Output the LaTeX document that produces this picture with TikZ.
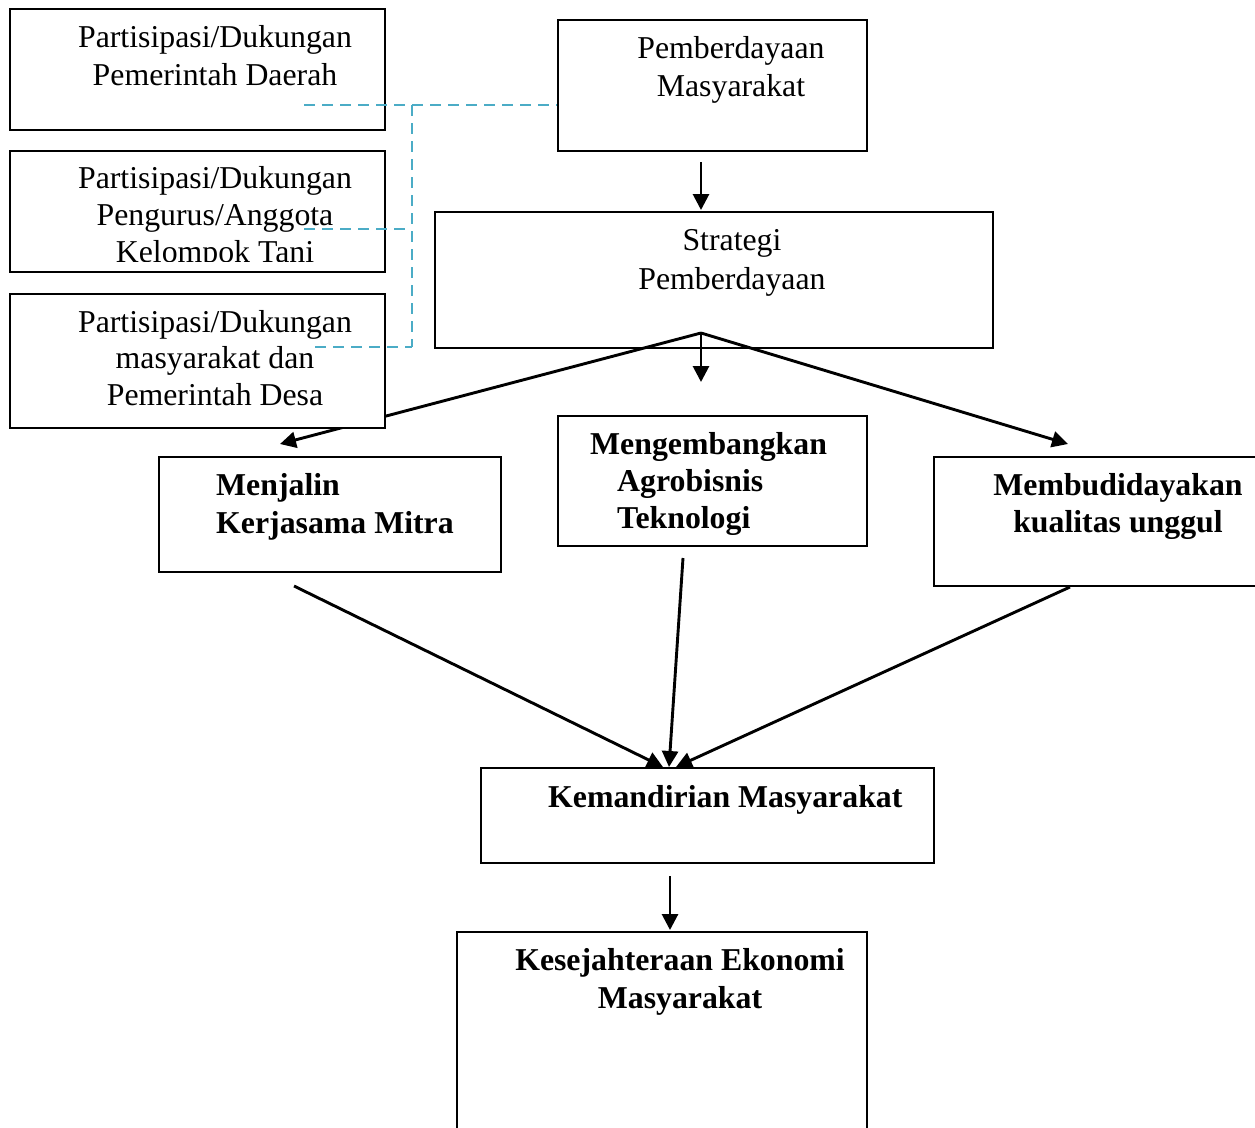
\documentclass[tikz,border=0pt]{standalone}
\usepackage{fontspec}
\setmainfont{Liberation Serif}
\usetikzlibrary{arrows.meta}
\definecolor{dashblue}{HTML}{4BACC6}
\begin{document}
\begin{tikzpicture}[x=1pt,y=-1pt,
  box/.style={draw, line width=2.2pt, fill=white, inner sep=0pt, anchor=north west},
  txt/.style={font=\fontsize{31.8}{38}\selectfont, inner sep=0pt, anchor=base},
  ltxt/.style={txt, anchor=base west},
  btxt/.style={txt, font=\fontsize{31.8}{38}\selectfont\bfseries},
  lbtxt/.style={btxt, anchor=base west},
  arr/.style={line width=2.9pt, -{Triangle[length=16pt,width=16pt]}},
  dashline/.style={dashblue, line width=2.8pt, dash pattern=on 11pt off 7pt}]
\useasboundingbox (0,0) rectangle (1255,1127);
\clip (0,0) rectangle (1255,1127);
\fill[white] (0,0) rectangle (1255,1127);

% coordinates for connectors
\coordinate (apex) at (701,333);
\coordinate (dtop) at (701,162);
\coordinate (etop) at (701,210);
\coordinate (mid) at (701,382);
\coordinate (ltip) at (280,444);
\coordinate (rtip) at (1068,444);
\coordinate (fs) at (294,586);
\coordinate (gs) at (683,558);
\coordinate (hs) at (1070,587);
\coordinate (t1) at (663,767);
\coordinate (t2) at (669,767);
\coordinate (t3) at (676,767);
\coordinate (is) at (670,876);
\coordinate (jt) at (670,930);

% boxes that lie under the arrows
\node[box, minimum width=309pt, minimum height=131pt] (D) at (557,19) {};
\node[box, minimum width=558pt, minimum height=136pt] (E) at (434,211) {};

% arrows
\draw[arr] (dtop) -- (etop);
\draw[arr] (apex) -- (mid);
\draw[arr] (apex) -- (ltip);
\draw[arr] (apex) -- (rtip);
\draw[arr] (fs) -- (t1);
\draw[arr] (gs) -- (t2);
\draw[arr] (hs) -- (t3);
\draw[arr] (is) -- (jt);

% other boxes
\node[box, minimum width=375pt, minimum height=121pt] (A) at (9,8) {};
\node[box, minimum width=375pt, minimum height=121pt] (B) at (9,150) {};
\node[box, minimum width=375pt, minimum height=134pt] (C) at (9,293) {};
\node[box, minimum width=342pt, minimum height=115pt] (F) at (158,456) {};
\node[box, minimum width=309pt, minimum height=130pt] (G) at (557,415) {};
\node[box, minimum width=340pt, minimum height=129pt] (H) at (933,456) {};
\node[box, minimum width=453pt, minimum height=95pt] (I) at (480,767) {};
\node[box, minimum width=410pt, minimum height=220pt] (J) at (456,931) {};

% texts
\node[txt] (a1) at (215,47) {Partisipasi/Dukungan};
\node[txt] (a2) at (215,85) {Pemerintah Daerah};
\node[txt] (b1) at (215,188) {Partisipasi/Dukungan};
\node[txt] (b2) at (215,225) {Pengurus/Anggota};
\begin{scope}
\clip (9,150) rectangle (384,261);
\node[txt] (b3) at (215,262) {Kelompok Tani};
\end{scope}
\node[txt] (c1) at (215,332) {Partisipasi/Dukungan};
\node[txt] (c2) at (215,368) {masyarakat dan};
\node[txt] (c3) at (215,405) {Pemerintah Desa};
\node[txt] (d1) at (731,58) {Pemberdayaan};
\node[txt] (d2) at (731,96) {Masyarakat};
\node[txt] (e1) at (732,250) {Strategi};
\node[txt] (e2) at (732,289) {Pemberdayaan};
\node[lbtxt] (f1) at (216,495) {Menjalin};
\node[lbtxt] (f2) at (216,533) {Kerjasama Mitra};
\node[lbtxt] (g1) at (590,454) {Mengembangkan};
\node[lbtxt] (g2) at (617,491) {Agrobisnis};
\node[lbtxt] (g3) at (617,528) {Teknologi};
\node[btxt] (h1) at (1118,495) {Membudidayakan};
\node[btxt] (h2) at (1118,532) {kualitas unggul};
\node[lbtxt] (i1) at (548,807) {Kemandirian Masyarakat};
\node[btxt] (j1) at (680,970) {Kesejahteraan Ekonomi};
\node[btxt] (j2) at (680,1008) {Masyarakat};

% dashed connectors
\coordinate (pa) at (304,105);
\coordinate (pb) at (304,229);
\coordinate (pc) at (315,347);
\coordinate (bus) at (412,105);
\draw[dashline] (pa) -- (pa -| D.west);
\draw[dashline] (bus) -- (bus |- pc);
\draw[dashline] (pb) -- (pb -| bus);
\draw[dashline] (pc) -- (pc -| bus);
\end{tikzpicture}
\end{document}
